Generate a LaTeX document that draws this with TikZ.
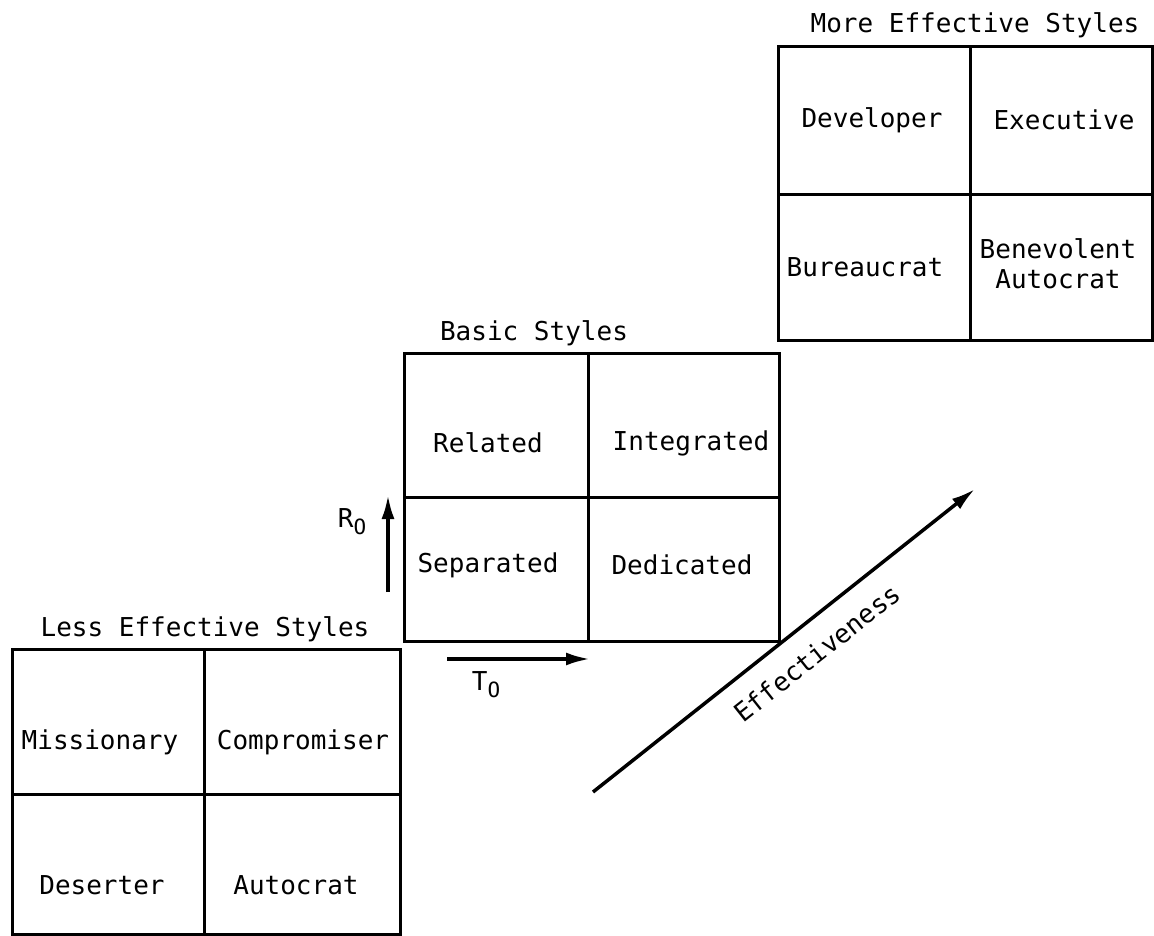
\documentclass[tikz,border=0pt]{standalone}
\usepackage{fontspec}
\setmainfont{DejaVu Sans Mono}
\usetikzlibrary{arrows.meta}
\tikzset{
  grid/.style={line width=3pt, line cap=rect},
  lbl/.style={font=\fontsize{26}{30}\selectfont, inner sep=0pt, align=center},
  ttl/.style={font=\fontsize{26}{30}\selectfont, inner sep=0pt},
  axis/.style={line width=3.5pt, -{Latex[length=24pt,width=13pt]}},
}
\newcommand{\subO}{\raisebox{-7pt}{\fontsize{21}{21}\selectfont O}}
\begin{document}
\begin{tikzpicture}[x=1pt,y=-1pt]
\useasboundingbox (0,0) rectangle (1154,936);
% Less effective grid
\draw[grid] (12,649) rectangle (400,934);
\draw[grid] (204,649) -- (204,934);
\draw[grid] (12,794) -- (400,794);
\node[ttl] (tless) at (205,629) {Less Effective Styles};
\node[lbl] (miss) at (100,742) {Missionary};
\node[lbl] (comp) at (303,742) {Compromiser};
\node[lbl] (dese) at (102,885) {Deserter};
\node[lbl] (auto) at (296,885) {Autocrat};
% Basic grid
\draw[grid] (404,353) rectangle (779,641);
\draw[grid] (588,353) -- (588,641);
\draw[grid] (404,497) -- (779,497);
\node[ttl] (tbasic) at (534,333) {Basic Styles};
\node[lbl] (rel) at (488,443) {Related};
\node[lbl] (integ) at (691,443) {Integrated};
\node[lbl] (sep) at (488,565) {Separated};
\node[lbl] (ded) at (682,565) {Dedicated};
% More effective grid
\draw[grid] (778,47) rectangle (1152,340);
\draw[grid] (970,47) -- (970,340);
\draw[grid] (778,195) -- (1152,195);
\node[ttl] (tmore) at (975,25) {More Effective Styles};
\node[lbl] (dev) at (872,120) {Developer};
\node[lbl] (exe) at (1064,120) {Executive};
\node[lbl] (bur) at (865,267) {Bureaucrat};
\node[lbl] (ben) at (1058,264) {Benevolent\\Autocrat};
% Axes
\coordinate (ro0) at (388,592);
\coordinate (ro1) at (388,495);
\draw[axis] (ro0) -- (ro1);
\node[ttl] (rolab) at (352,522) {R\subO};
\coordinate (to0) at (447,659);
\coordinate (to1) at (590,659);
\draw[axis] (to0) -- (to1);
\node[ttl] (tolab) at (486,685) {T\subO};
\coordinate (ef0) at (593,792);
\coordinate (ef1) at (975,489);
\draw[axis] (ef0) -- (ef1);
\node[ttl, rotate=38.4] (eflab) at (817,653) {Effectiveness};
\end{tikzpicture}
\end{document}
